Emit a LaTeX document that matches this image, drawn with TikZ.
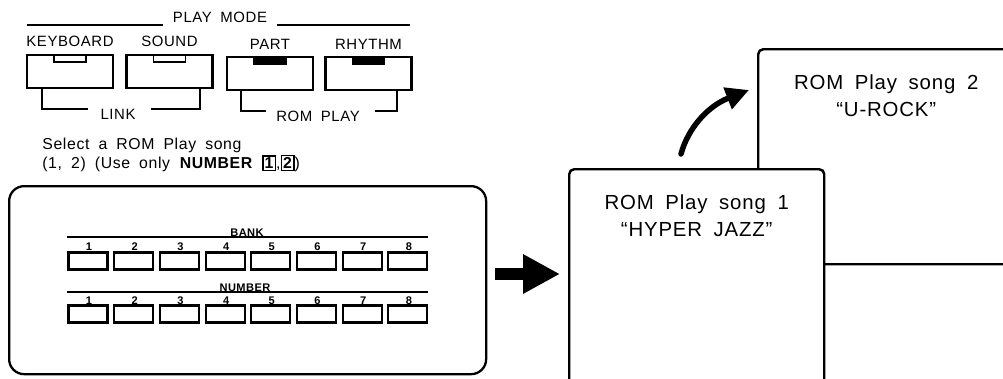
\documentclass[tikz,border=0pt]{standalone}
\usepackage{fontspec}
\setmainfont{Liberation Sans}[LetterSpace=4,WordSpace=1.8]
\usetikzlibrary{positioning,arrows.meta}
\newcommand\keycap[1]{{\fboxsep=0.6pt\fboxrule=0.9pt\fbox{\bfseries #1}}}
\tikzset{
  modebtn/.style={draw, line width=1.3pt, minimum width=17.2mm, minimum height=6.6mm, inner sep=0pt},
  lamp/.style={draw, line width=1pt, minimum width=6.4mm, minimum height=1.5mm, inner sep=0pt, anchor=north},
  lbl/.style={font=\fontsize{8.5}{10}\selectfont, inner sep=0pt},
  keybtn/.style={draw, line width=1.2pt, minimum width=7.8mm, minimum height=3.4mm, inner sep=0pt},
  keynum/.style={font=\fontsize{6.3}{7}\selectfont\bfseries, inner sep=0pt},
  songbox/.style={draw, fill=white, line width=1.4pt, rounded corners=1mm, inner sep=0pt, anchor=north west},
  songtxt/.style={align=center, font=\fontsize{11.6}{15.5}\selectfont, inner sep=0pt, anchor=north},
  bracket/.style={line width=1.1pt}
}
\begin{document}
\begin{tikzpicture}[x=0.2mm, y=-0.2mm, line join=miter]
  \useasboundingbox (0,0) rectangle (1003,378);
  % play mode buttons
  \node (pm) [lbl, anchor=south] at (220,23) {PLAY MODE};
  \coordinate (pmL) at (27,25);
  \coordinate (pmR) at (410,25);
  \draw[bracket] (pmL) -- ([xshift=-2mm]pm.south west |- pmL);
  \draw[bracket] ([xshift=2mm]pm.south east |- pmR) -- (pmR);
  \node (kbd) [modebtn] at (70,71.5) {};
  \node (snd) [modebtn] at (169.5,71.5) {};
  \node (part) [modebtn] at (270,73.5) {};
  \node (rhy) [modebtn] at (368.5,73.5) {};
  \node [lamp] at (kbd.north) {};
  \node [lamp] at (snd.north) {};
  \node [lamp, fill=black] at (part.north) {};
  \node [lamp, fill=black] at (rhy.north) {};
  \node [lbl, above=1.3mm of kbd] {KEYBOARD};
  \node [lbl, above=1.3mm of snd] {SOUND};
  \node [lbl, above=1.3mm of part] {PART};
  \node [lbl, above=1.3mm of rhy] {RHYTHM};
  \node (link) [lbl, anchor=north] at (118,109) {LINK};
  \node (romplay) [lbl, anchor=north] at (318,111) {ROM PLAY};
  \draw[bracket] ([xshift=3.2mm]kbd.south west) |- ([xshift=-2.4mm]link.north west);
  \draw[bracket] ([xshift=3mm]link.north east) -| ([xshift=-2.8mm]snd.south east);
  \draw[bracket] ([xshift=3mm]part.south west) |- ([xshift=-2mm]romplay.north west);
  \draw[bracket] ([xshift=3mm]romplay.north east) -| ([xshift=-3.2mm]rhy.south east);
  % hint
  \node (hint) [anchor=north west, align=left, inner sep=0pt, font=\fontsize{9}{9.6}\selectfont] at (42,138)
    {Select a ROM Play song\\(1, 2) (Use only \textbf{NUMBER} \keycap{1},\keycap{2})};
  % bank / number panel
  \node (panel) [draw, line width=1.3pt, rounded corners=3mm, minimum width=95.4mm, minimum height=37.6mm, anchor=north west] at (8,185) {};
  \coordinate (bankL) at (67,237);
  \coordinate (bankR) at (428,237);
  \coordinate (numL) at (67,292);
  \coordinate (numR) at (428,292);
  \draw[line width=0.9pt] (bankL) -- (bankR);
  \draw[line width=0.9pt] (numL) -- (numR);
  \node (bank) [keynum, anchor=south] at (247,237) {BANK};
  \node (number) [keynum, anchor=south] at (245,292) {NUMBER};
  \foreach \i in {1,...,8}{
    \node (b\i) [keybtn] at ({88+(\i-1)*45.7},261) {};
    \node [keynum, anchor=base] at ({89+(\i-1)*45.7},250) {\i};
    \node (n\i) [keybtn] at ({88+(\i-1)*45.7},314) {};
    \node [keynum, anchor=base] at ({89+(\i-1)*45.7},304) {\i};
  }
  % songs
  \node (song2) [songbox, minimum width=51.2mm, minimum height=43mm] at (757,48) {};
  \node (song1) [songbox, minimum width=51mm, minimum height=46mm] at (568,168) {};
  \node (t1) [songtxt, below=5.2mm of song1.north] {ROM Play song 1\\“HYPER JAZZ”};
  \node (t2) [songtxt, below=5.2mm of song2.north] {ROM Play song 2\\“U-ROCK”};
  \coordinate (ay) at (0,274);
  \draw[-{Triangle[length=7.4mm,width=7.4mm]}, line width=2.4mm, shorten <=1.6mm, shorten >=1.6mm] (panel.east |- ay) -- (song1.west |- ay);
  \coordinate (cs) at (681,154);
  \coordinate (ce) at (749,90);
  \draw[-{Triangle[length=4.6mm,width=4.4mm]}, line width=1.1mm, line cap=round] (cs) .. controls (688,128) and (708,106) .. (ce);
\end{tikzpicture}
\end{document}
